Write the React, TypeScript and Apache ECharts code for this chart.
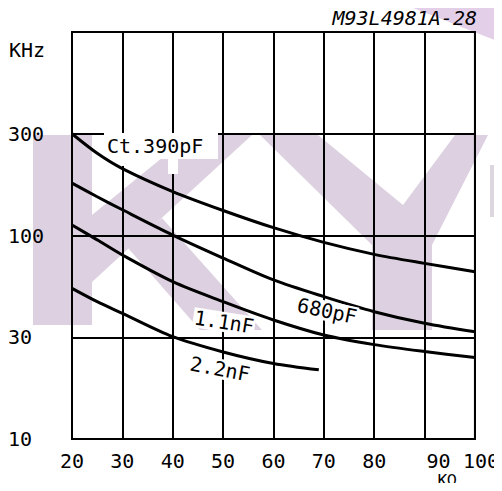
import React, { useEffect, useRef } from 'react';
import * as echarts from 'echarts';

// Axis ticks
const xMin = 20;
const xMax = 100;
const xStep = 10;
const yTickValues = [10, 30, 100, 300, 1000]; // equally spaced grid rows (kHz)
const yTickLabels = ['10', '30', '100', '300', ''];

// Curves: oscillator frequency (kHz) vs Rt (kOhm)
const r390 = [20, 25, 30, 40, 50, 60, 70, 80, 90, 100];
const f390 = [300, 243, 206, 160.7, 131, 108.8, 92.2, 80, 71.9, 65.2];
const r680 = [20, 25, 30, 40, 50, 60, 70, 80, 90, 100];
const f680 = [176, 152, 132, 100.5, 76.6, 59.1, 48.5, 40.6, 35.4, 32];
const r1n1 = [20, 25, 30, 40, 50, 60, 70, 80, 90, 100];
const f1n1 = [112, 95, 79.4, 57.9, 45.7, 36.8, 30.8, 27.7, 25.7, 24.1];
const r2n2 = [20, 25, 30, 40, 50, 60, 69];
const f2n2 = [53.5, 45.7, 39.8, 30.2, 25.6, 22.6, 21.1];

const curveLabels = ['Ct.390pF', '680pF', '1.1nF', '2.2nF'];

// map kHz to the row coordinate of the drawn (equally spaced) grid
function toRow(v: number): number {
  for (let i = 0; i < yTickValues.length - 1; i++) {
    const a = yTickValues[i];
    const b = yTickValues[i + 1];
    if (v <= b || i === yTickValues.length - 2) {
      return i + Math.log(v / a) / Math.log(b / a);
    }
  }
  return 0;
}

const MONO = '"DejaVu Sans Mono", "Liberation Mono", monospace';
const WM = '#ddd1e1';

export default function App() {
  const ref = useRef<HTMLDivElement>(null);
  useEffect(() => {
    if (!ref.current) return;
    const chart = echarts.init(ref.current, null, { renderer: 'svg' });
    const mk = (r: number[], f: number[]) => r.map((x, i) => [x, toRow(f[i])]);
    const lineSeries = (name: string, r: number[], f: number[]) => ({
      type: 'line',
      name,
      data: mk(r, f),
      smooth: 0.3,
      showSymbol: false,
      symbol: 'none',
      z: 10,
      lineStyle: { color: '#000', width: 3 },
    });
    const labelText = (text: string, x: number, y: number, rot: number) => ({
      type: 'text',
      x,
      y,
      rotation: rot,
      z: 20,
      style: {
        text,
        fill: '#000',
        font: `20px ${MONO}`,
        align: 'center',
        verticalAlign: 'middle',
        backgroundColor: '#fff',
        padding: [0, 1],
      },
    });
    chart.setOption({
      animation: false,
      backgroundColor: '#fff',
      grid: {
        left: 72,
        right: 24,
        top: 32,
        bottom: 52,
        show: true,
        borderColor: '#000',
        borderWidth: 2,
        backgroundColor: 'transparent',
      },
      xAxis: {
        type: 'value',
        min: xMin,
        max: xMax,
        interval: xStep,
        axisLine: { show: true, lineStyle: { color: '#000', width: 2 } },
        axisTick: { show: false },
        splitLine: { show: true, lineStyle: { color: '#000', width: 2 } },
        axisLabel: {
          margin: 12,
          color: '#000',
          fontFamily: MONO,
          fontSize: 20,
          formatter: (v: number) => (v === 90 ? '{a|90}' : v === 100 ? '{b|100}' : String(v)),
          rich: {
            a: { fontFamily: MONO, fontSize: 20, color: '#000', padding: [0, 0, 0, 28] },
            b: { fontFamily: MONO, fontSize: 20, color: '#000', padding: [0, 0, 0, 12] },
          },
        },
      },
      yAxis: {
        type: 'value',
        min: 0,
        max: 4,
        interval: 1,
        axisLine: { show: true, lineStyle: { color: '#000', width: 2 } },
        axisTick: { show: false },
        splitLine: { show: true, lineStyle: { color: '#000', width: 2 } },
        axisLabel: {
          align: 'left',
          margin: 64,
          color: '#000',
          fontFamily: MONO,
          fontSize: 20,
          formatter: (v: number) => yTickLabels[Math.round(v)] ?? '',
        },
      },
      series: [
        lineSeries(curveLabels[0], r390, f390),
        lineSeries(curveLabels[1], r680, f680),
        lineSeries(curveLabels[2], r1n1, f1n1),
        lineSeries(curveLabels[3], r2n2, f2n2),
      ],
      graphic: [
        // watermark shapes
        { type: 'polygon', z: -5, shape: { points: [[0, 160], [8, 160], [8, 302], [0, 302]] }, style: { fill: '#dcd6de' } },
        { type: 'polygon', z: -5, shape: { points: [[33, 135], [92, 135], [92, 325], [33, 325]] }, style: { fill: WM } },
        { type: 'polygon', z: -5, shape: { points: [[92, 215], [190, 135], [252, 135], [92, 282]] }, style: { fill: WM } },
        { type: 'polygon', z: -5, shape: { points: [[128, 248], [162, 218], [262, 330], [200, 330]] }, style: { fill: WM } },
        { type: 'polygon', z: -5, shape: { points: [[260, 135], [318, 135], [403, 205], [455, 135], [488, 135], [432, 245], [432, 330], [372, 330], [372, 245]] }, style: { fill: WM } },
        { type: 'polygon', z: -5, shape: { points: [[490, 165], [502, 165], [502, 217], [490, 217]] }, style: { fill: '#dcd6de' } },
        { type: 'polygon', z: -5, shape: { points: [[393, 0], [502, 0], [502, 43]] }, style: { fill: '#e3cfe8' } },
        // white gaps in grid around the Ct label
        { type: 'rect', z: 5, shape: { x: 104, y: 133, width: 114, height: 26 }, style: { fill: '#fff' } },
        { type: 'rect', z: 5, shape: { x: 117, y: 159, width: 10, height: 7 }, style: { fill: '#fff' } },
        { type: 'rect', z: 5, shape: { x: 168, y: 159, width: 10, height: 15 }, style: { fill: '#fff' } },
        // texts
        {
          type: 'text', x: 477, y: 18, z: 20,
          style: { text: 'M93L4981A-28', fill: '#000', font: `italic 20px ${MONO}`, align: 'right', verticalAlign: 'middle' },
        },
        {
          type: 'text', x: 9, y: 50, z: 20,
          style: { text: 'KHz', fill: '#000', font: `20px ${MONO}`, align: 'left', verticalAlign: 'middle' },
        },
        {
          type: 'text', x: 447, y: 480, z: 20,
          style: { text: 'KΩ', fill: '#000', font: `16px ${MONO}`, align: 'center', verticalAlign: 'middle' },
        },
        {
          type: 'text', x: 107, y: 146, z: 20,
          style: { text: curveLabels[0], fill: '#000', font: `20px ${MONO}`, align: 'left', verticalAlign: 'middle' },
        },
        labelText(curveLabels[1], 327, 311, -0.21),
        labelText(curveLabels[2], 224, 322, -0.16),
        labelText(curveLabels[3], 220, 369, -0.19),
      ],
    });
    return () => chart.dispose();
  }, []);
  return <div ref={ref} style={{ width: 502, height: 491, margin: -8 }} />;
}
